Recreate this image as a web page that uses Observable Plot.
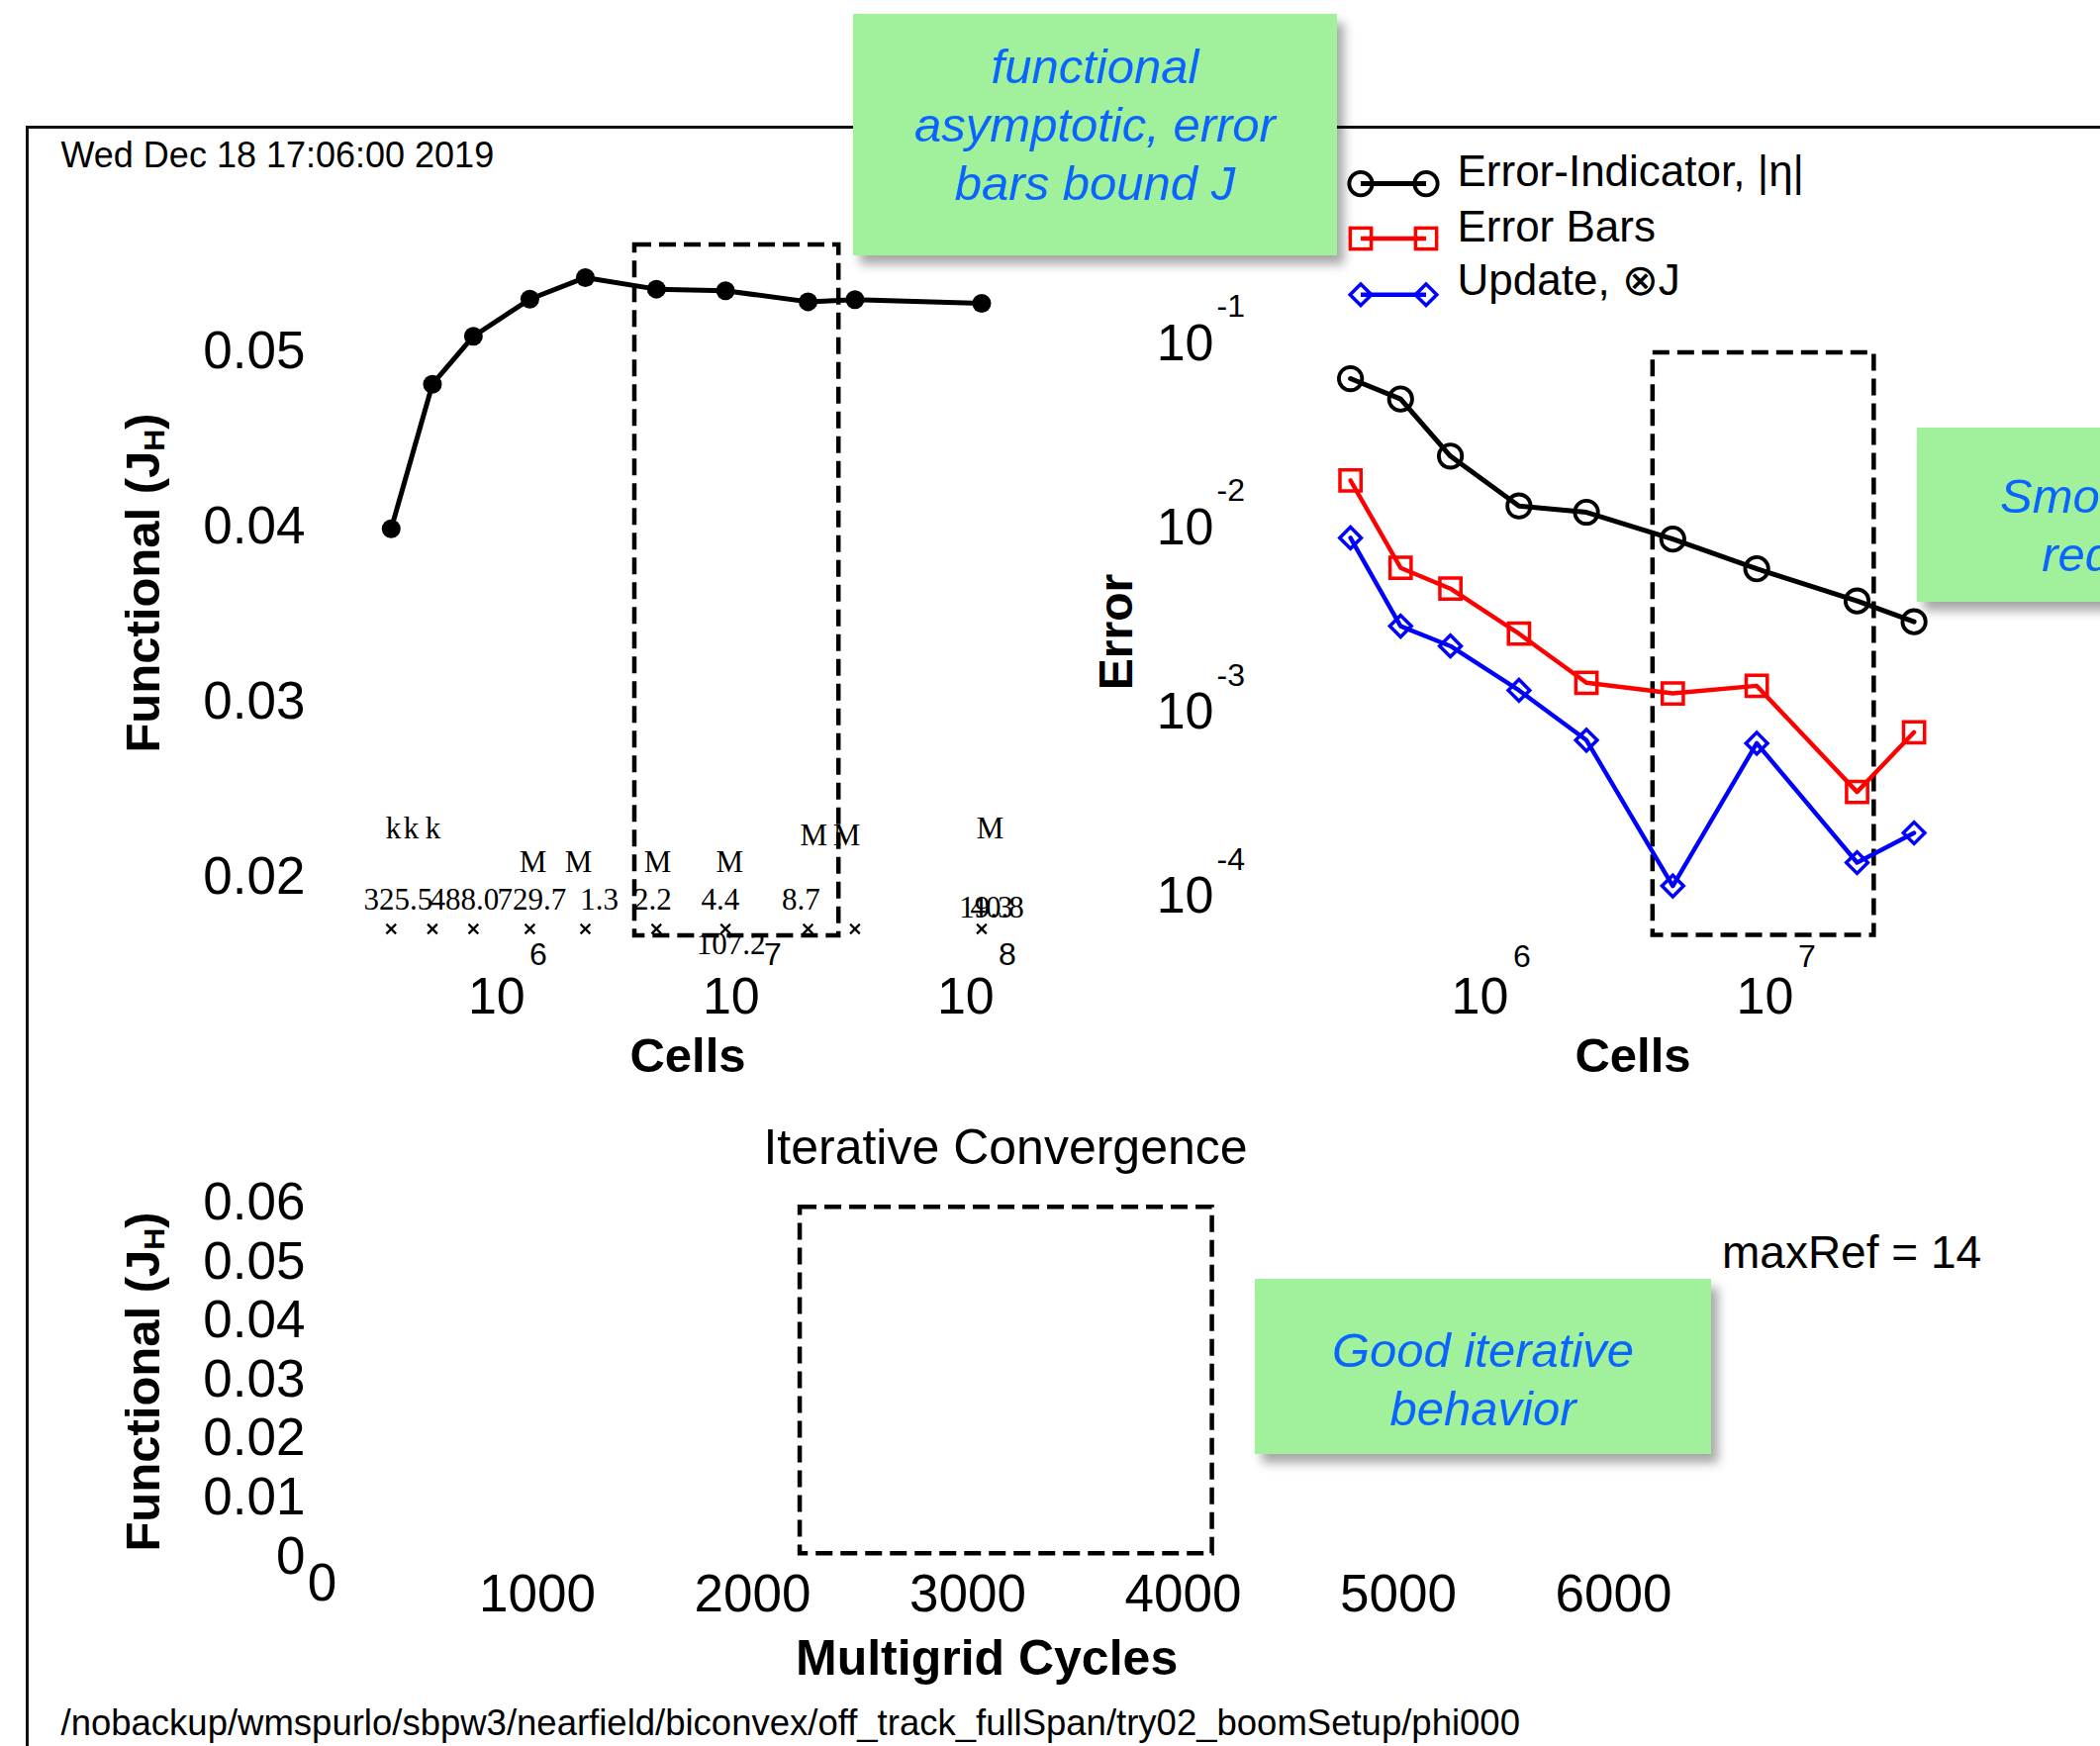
<!DOCTYPE html>
<html>
<head>
<meta charset="utf-8">
<script src="https://cdn.jsdelivr.net/npm/d3@7"></script>
<script src="https://cdn.jsdelivr.net/npm/@observablehq/plot@0.6"></script>
<style>
  html, body { margin: 0; padding: 0; background: #fff; }
  #page { position: relative; width: 2122px; height: 1764px; overflow: hidden; background: #fff;
          font-family: "Liberation Sans", Arial, Helvetica, sans-serif; color: #000; }
  #page > svg, #page > figure { position: absolute; left: 0; top: 0; margin: 0; }
  .frame { position: absolute; left: 26px; top: 127px; right: -20px; bottom: -20px;
           border-left: 3px solid #111; border-top: 3px solid #111; }
  .note { position: absolute; background: #a0f09c; box-shadow: 7px 9px 10px rgba(0,0,0,0.35);
          color: #0a64ff; font-style: italic; font-size: 49px; line-height: 59px; text-align: center;
          box-sizing: border-box; white-space: nowrap; }
  .vlabel { position: absolute; transform: translate(-50%, -50%) rotate(-90deg); font-weight: bold;
            font-size: 49px; white-space: nowrap; line-height: 1; }
  .vlabel sub { font-size: 0.62em; vertical-align: -0.18em; }
  .legend { position: absolute; left: 1350px; top: 160px; }
</style>
</head>
<body>
<div id="page">
  <div class="frame"></div>
</div>
<script>
// ---------------- data ----------------
const cells = [325.5e3, 488.0e3, 729.7e3, 1.27e6, 2.19e6, 4.40e6, 8.67e6, 19.5e6, 30.9e6, 107.2e6];
const functional = [0.0399, 0.04815, 0.05089, 0.05301, 0.05424, 0.05358, 0.05349, 0.05286, 0.05298, 0.05277];

const errorCells = cells.slice(0, 9);
const errIndicator = [0.0542, 0.0420, 0.02059, 0.01104, 0.01021, 0.00730, 0.005041, 0.003369, 0.002598];
const errorBars = [0.01521, 0.005097, 0.003931, 0.002240, 0.001213, 0.001062, 0.001167, 0.0003099, 0.0006535];
const update = [0.007413, 0.002460, 0.001919, 0.001104, 0.000592, 0.0000958, 0.0005696, 0.0001282, 0.0001858];

const funcTicks = [0.02, 0.03, 0.04, 0.05];
const cellTicksLeft = [1e6, 1e7, 1e8];
const cellTicksRight = [1e6, 1e7];
const errTicks = [1e-4, 1e-3, 1e-2, 1e-1];
const cycleTicks = [1000, 2000, 3000, 4000, 5000, 6000];
const cycleOrigin = [0];
const iterTicks = [0, 0.01, 0.02, 0.03, 0.04, 0.05, 0.06];

// dashed "asymptotic range" boxes (data units)
const funcBoxCells = [3.56e6, 2.64e7];
const funcBoxJ = [0.01667, 0.0561];
const errBoxCells = [3.75e6, 2.24e7];
const errBoxErr = [5.16e-5, 0.0748];
const iterBoxCycles = [2221, 4136];
const iterBoxJ = [0.0005, 0.0592];

// garbled point-size tags in the functional panel (text, cells)
const kTags = ["k", "k", "k"];
const kTagCells = [3.33e5, 3.96e5, 4.91e5];
const mTagsLow = ["M", "M", "M", "M"];
const mTagsLowCells = [1.309e6, 2.046e6, 4.452e6, 9.02e6];
const mTagsMid = ["M", "M"];
const mTagsMidCells = [2.06e7, 2.848e7];
const mTagsHigh = ["M"];
const mTagsHighCells = [1.165e8];
const sizeTags = ["325.5", "488.0", "729.7", "1.3", "2.2", "4.4", "8.7"];
const sizeTagCells = [3.49e5, 6.69e5, 1.296e6, 2.51e6, 4.24e6, 8.25e6, 1.821e7];
const strayTags = ["19.3", "40.8"];
const strayTagCells = [1.12e8, 1.247e8];
const lowTags = ["107.2"];
const lowTagCells = [9.14e6];

const legendLabels = ["Error-Indicator, |\u03b7|", "Error Bars", "Update, \u2297J"];

// ---------------- rendering ----------------
const FONT = '"Liberation Sans", Arial, Helvetica, sans-serif';
const SERIF = '"Liberation Serif", "Times New Roman", serif';
const W = 2122, H = 1764;
const page = document.getElementById("page");

function base(extra) {
  return Object.assign({
    width: W, height: H, marginTop: 0, marginRight: 0, marginBottom: 0, marginLeft: 0,
    style: {background: "transparent", overflow: "visible", fontFamily: FONT, color: "black", maxWidth: "none"}
  }, extra);
}
const exp10 = d => String(Math.round(Math.log10(d)));
const funcData = cells.map((c, i) => ({c, j: functional[i]}));
const etaData = errorCells.map((c, i) => ({c, v: errIndicator[i]}));
const barsData = errorCells.map((c, i) => ({c, v: errorBars[i]}));
const updData = errorCells.map((c, i) => ({c, v: update[i]}));

const tagText = (data, cellsArr, baseline) =>
  Plot.text(data, {x: (d, i) => cellsArr[i], text: d => d, frameAnchor: "top", dy: baseline,
                   textAnchor: "middle", lineAnchor: "bottom", fontFamily: SERIF, fontSize: 31});
// free-standing label centred at a page position
const label = (s, cx, cy, o = {}) =>
  Plot.text([s], Object.assign({text: d => d, frameAnchor: "top-left", dx: cx, dy: cy,
                                textAnchor: "middle", lineAnchor: "middle"}, o));
const DASH = {fill: "none", stroke: "black", strokeWidth: 4.5, strokeDasharray: "17,8"};

// --- Functional vs cells (top left)
const p1 = Plot.plot(base({
  x: {type: "log", domain: [1e6, 1e8], range: [510.3, 984.3], axis: null},
  y: {domain: [0.02, 0.05], range: [886, 355], axis: null},
  marks: [
    Plot.rect([0], {x1: () => funcBoxCells[0], x2: () => funcBoxCells[1], y1: () => funcBoxJ[0], y2: () => funcBoxJ[1], ...DASH}),
    Plot.line(funcData, {x: "c", y: "j", stroke: "black", strokeWidth: 5}),
    Plot.dot(funcData, {x: "c", y: "j", r: 9.5, fill: "black"}),
    Plot.dot(cells, {x: d => d, frameAnchor: "top", dy: 938, symbol: "times", r: 4.5, stroke: "black", strokeWidth: 2.2}),
    tagText(kTags, kTagCells, 846.7),
    tagText(mTagsHigh, mTagsHighCells, 846.7),
    tagText(mTagsMid, mTagsMidCells, 853.3),
    tagText(mTagsLow, mTagsLowCells, 880),
    tagText(sizeTags, sizeTagCells, 918),
    tagText(strayTags, strayTagCells, 926.7),
    tagText(lowTags, lowTagCells, 963),
    Plot.text(funcTicks, {y: d => d, text: d => d.toFixed(2), frameAnchor: "left", dx: 308,
                          textAnchor: "end", lineAnchor: "middle", fontSize: 53}),
    Plot.text(cellTicksLeft, {x: d => d, text: () => "10", frameAnchor: "top", dx: -9, dy: 1007,
                              textAnchor: "middle", lineAnchor: "middle", fontSize: 52}),
    Plot.text(cellTicksLeft, {x: d => d, text: exp10, frameAnchor: "top", dx: 33, dy: 964,
                              textAnchor: "middle", lineAnchor: "middle", fontSize: 32}),
    label("Cells", 694.5, 1067, {fontSize: 49, fontWeight: "bold"})
  ]
}));
page.appendChild(p1);

// --- Error vs cells (top right)
const p2 = Plot.plot(base({
  x: {type: "log", domain: [1e6, 1e7], range: [1504.5, 1792.5], axis: null},
  y: {type: "log", domain: [1e-4, 1e-1], range: [891.1, 332.5], axis: null},
  marks: [
    Plot.rect([0], {x1: () => errBoxCells[0], x2: () => errBoxCells[1], y1: () => errBoxErr[0], y2: () => errBoxErr[1], ...DASH}),
    Plot.line(etaData, {x: "c", y: "v", stroke: "#000000", strokeWidth: 5}),
    Plot.line(barsData, {x: "c", y: "v", stroke: "#ff0000", strokeWidth: 4.4}),
    Plot.line(updData, {x: "c", y: "v", stroke: "#0000ff", strokeWidth: 4.4}),
    Plot.dot(etaData, {x: "c", y: "v", r: 11.7, stroke: "#000", strokeWidth: 3.8, fill: "none"}),
    Plot.dot(barsData, {x: "c", y: "v", symbol: "square", r: 12, stroke: "#ff0000", strokeWidth: 3.5, fill: "none"}),
    Plot.dot(updData, {x: "c", y: "v", symbol: "diamond2", r: 9.8, stroke: "#0000ff", strokeWidth: 3.5, fill: "none"}),
    Plot.text(errTicks, {y: d => d, text: () => "10", frameAnchor: "left", dx: 1226, dy: 14,
                         textAnchor: "end", lineAnchor: "middle", fontSize: 52}),
    Plot.text(errTicks, {y: d => d, text: exp10, frameAnchor: "left", dx: 1229, dy: -23,
                         textAnchor: "start", lineAnchor: "middle", fontSize: 32}),
    Plot.text(cellTicksRight, {x: d => d, text: () => "10", frameAnchor: "top", dx: -9.5, dy: 1007,
                               textAnchor: "middle", lineAnchor: "middle", fontSize: 52}),
    Plot.text(cellTicksRight, {x: d => d, text: exp10, frameAnchor: "top", dx: 33, dy: 966,
                               textAnchor: "middle", lineAnchor: "middle", fontSize: 32}),
    label("Cells", 1649.5, 1067, {fontSize: 49, fontWeight: "bold"}),
    label("Error", 1128, 638, {rotate: -90, fontSize: 48, fontWeight: "bold"})
  ]
}));
page.appendChild(p2);

// --- Iterative convergence (bottom)
const p3 = Plot.plot(base({
  x: {domain: [0, 6000], range: [325, 1630], axis: null},
  y: {domain: [0, 0.06], range: [1572.3, 1214.4], axis: null},
  marks: [
    Plot.rect([0], {x1: () => iterBoxCycles[0], x2: () => iterBoxCycles[1], y1: () => iterBoxJ[0], y2: () => iterBoxJ[1], ...DASH}),
    Plot.text(iterTicks, {y: d => d, text: d => d === 0 ? "0" : d.toFixed(2), frameAnchor: "left", dx: 308,
                          textAnchor: "end", lineAnchor: "middle", fontSize: 53}),
    Plot.text(cycleTicks, {x: d => d, text: d => String(d), frameAnchor: "top", dy: 1611,
                           textAnchor: "middle", lineAnchor: "middle", fontSize: 53}),
    Plot.text(cycleOrigin, {x: d => d, text: d => String(d), frameAnchor: "top", dy: 1600,
                            textAnchor: "middle", lineAnchor: "middle", fontSize: 53}),
    label("Iterative Convergence", 1015.5, 1159, {fontSize: 50}),
    label("Multigrid Cycles", 996.6, 1675, {fontSize: 50, fontWeight: "bold"})
  ]
}));
page.appendChild(p3);

// --- free text: time stamp, path, maxRef, legend labels
const leftText = (s, x, baseline, fs) =>
  Plot.text([s], {text: d => d, frameAnchor: "top-left", dx: x, dy: baseline, lineAnchor: "bottom", textAnchor: "start", fontSize: fs});
const p4 = Plot.plot(base({
  marks: [
    leftText("Wed Dec 18 17:06:00 2019", 61, 168.4, 36),
    leftText("/nobackup/wmspurlo/sbpw3/nearfield/biconvex/off_track_fullSpan/try02_boomSetup/phi000", 61, 1752, 36.5),
    leftText("maxRef = 14", 1739.5, 1280, 46),
    leftText(legendLabels[0], 1472, 187.5, 44),
    leftText(legendLabels[1], 1472, 243, 44),
    leftText(legendLabels[2], 1472, 297.7, 44)
  ]
}));
page.appendChild(p4);

// --- legend swatches
const lg = document.createElement("div");
lg.className = "legend";
const sq = 10.6, dm = 10.8;
lg.innerHTML = `<svg width="120" height="160" style="overflow:visible">
  <g fill="none">
    <line x1="25" x2="91" y1="25.6" y2="25.6" stroke="#000" stroke-width="5"/>
    <circle cx="25" cy="25.6" r="11.7" stroke="#000" stroke-width="3.8"/>
    <circle cx="91" cy="25.6" r="11.7" stroke="#000" stroke-width="3.8"/>
    <line x1="25" x2="91" y1="81" y2="81" stroke="#f00" stroke-width="4.4"/>
    <rect x="${25 - sq}" y="${81 - sq}" width="${2 * sq}" height="${2 * sq}" stroke="#f00" stroke-width="3.5"/>
    <rect x="${91 - sq}" y="${81 - sq}" width="${2 * sq}" height="${2 * sq}" stroke="#f00" stroke-width="3.5"/>
    <line x1="25" x2="91" y1="137.7" y2="137.7" stroke="#00f" stroke-width="4.4"/>
    <path d="M25,${137.7 - dm}L${25 + dm},137.7L25,${137.7 + dm}L${25 - dm},137.7Z" stroke="#00f" stroke-width="3.5"/>
    <path d="M91,${137.7 - dm}L${91 + dm},137.7L91,${137.7 + dm}L${91 - dm},137.7Z" stroke="#00f" stroke-width="3.5"/>
  </g></svg>`;
page.appendChild(lg);

// --- rotated y-axis titles with subscript
function vlabel(cx, cy) {
  const d = document.createElement("div");
  d.className = "vlabel";
  d.style.left = cx + "px";
  d.style.top = cy + "px";
  d.innerHTML = "Functional (J<sub>H</sub>)";
  page.appendChild(d);
}
vlabel(145, 589);
vlabel(145, 1396);

// --- green call-out notes
function note(left, top, width, height, padTop, lines) {
  const d = document.createElement("div");
  d.className = "note";
  Object.assign(d.style, {left: left + "px", top: top + "px", width: width + "px", height: height + "px", paddingTop: padTop + "px"});
  d.innerHTML = lines.join("<br>");
  page.appendChild(d);
}
note(862, 14, 489, 244, 24, ["functional", "asymptotic, error", "bars bound J"]);
note(1937, 432, 454, 176, 40, ["Smooth error", "reduction"]);
note(1268, 1292, 461, 177, 43, ["Good iterative", "behavior"]);
</script>
</body>
</html>
